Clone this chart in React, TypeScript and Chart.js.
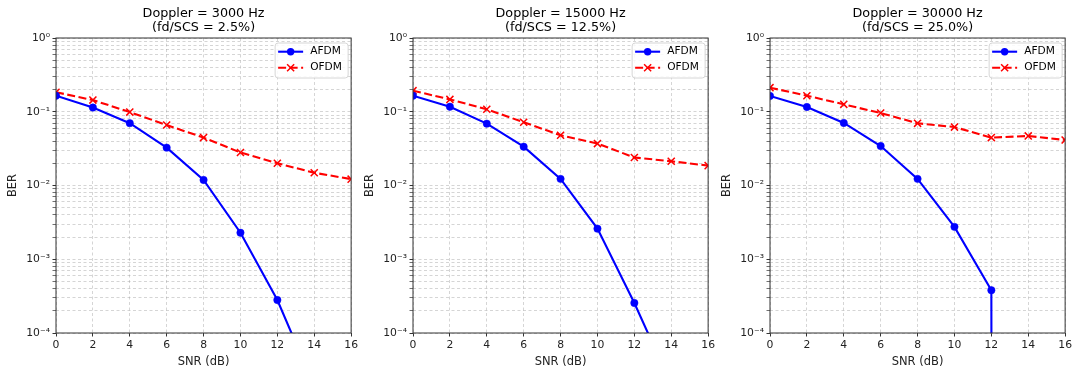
import React, { useEffect, useRef } from 'react';
import { Chart, registerables } from 'chart.js';

Chart.register(...registerables);

// ---------- data ----------
const SNR_DB = [0, 2, 4, 6, 8, 10, 12, 14, 16];

const TITLE_3000 = ['Doppler = 3000 Hz', '(fd/SCS = 2.5%)'];
const TITLE_15000 = ['Doppler = 15000 Hz', '(fd/SCS = 12.5%)'];
const TITLE_30000 = ['Doppler = 30000 Hz', '(fd/SCS = 25.0%)'];

const AFDM_3000 = [0.165, 0.114, 0.07, 0.0326, 0.0119, 0.00229, 0.00028, 0.000019, 0];
const OFDM_3000 = [0.184, 0.144, 0.099, 0.066, 0.0446, 0.028, 0.02, 0.0149, 0.0122];

const AFDM_15000 = [0.165, 0.117, 0.069, 0.0336, 0.0123, 0.0026, 0.000255, 0.00002, 0];
const OFDM_15000 = [0.193, 0.147, 0.108, 0.072, 0.048, 0.037, 0.024, 0.0213, 0.0186];

const AFDM_30000 = [0.164, 0.116, 0.0705, 0.0343, 0.0123, 0.00275, 0.00038, 0, 0];
const OFDM_30000 = [0.212, 0.165, 0.126, 0.096, 0.0697, 0.062, 0.0446, 0.047, 0.0414];

const X_TICKS = [0, 2, 4, 6, 8, 10, 12, 14, 16];
const Y_MAJOR_TICKS = [1e-4, 1e-3, 1e-2, 1e-1, 1];
const Y_TICK_LABELS = ['10⁻⁴', '10⁻³', '10⁻²', '10⁻¹', '10⁰'];
const Y_MINOR_MULTIPLIERS = [2, 3, 4, 5, 6, 7, 8, 9];

const SERIES_NAMES = ['AFDM', 'OFDM'];
const X_LABEL = 'SNR (dB)';
const Y_LABEL = 'BER';

// ---------- style ----------
const FONT = "'DejaVu Sans', sans-serif";
const ZERO_FLOOR = 1e-300; // log axis clips non-positive values far below the axis
const GRID_COLOR = 'rgba(150,150,150,0.5)';
const SPINE_COLOR = '#333333';

const frameLegendPlugin = {
  id: 'frameLegend',
  afterDraw(chart: any) {
    const { ctx, chartArea: ca } = chart;
    ctx.save();
    // spines
    ctx.strokeStyle = SPINE_COLOR;
    ctx.lineWidth = 1;
    ctx.setLineDash([]);
    ctx.strokeRect(ca.left, ca.top, ca.right - ca.left, ca.bottom - ca.top);

    // legend
    const w = 73;
    const h = 35;
    const x0 = ca.right - 3 - w;
    const y0 = ca.top + 5;
    ctx.beginPath();
    const r = 3;
    ctx.moveTo(x0 + r, y0);
    ctx.lineTo(x0 + w - r, y0);
    ctx.arcTo(x0 + w, y0, x0 + w, y0 + r, r);
    ctx.lineTo(x0 + w, y0 + h - r);
    ctx.arcTo(x0 + w, y0 + h, x0 + w - r, y0 + h, r);
    ctx.lineTo(x0 + r, y0 + h);
    ctx.arcTo(x0, y0 + h, x0, y0 + h - r, r);
    ctx.lineTo(x0, y0 + r);
    ctx.arcTo(x0, y0, x0 + r, y0, r);
    ctx.closePath();
    ctx.fillStyle = 'rgba(255,255,255,0.85)';
    ctx.fill();
    ctx.strokeStyle = '#d6d6d6';
    ctx.lineWidth = 1;
    ctx.stroke();

    chart.data.datasets.forEach((ds: any, i: number) => {
      const cy = y0 + 8.7 + i * 16;
      const lx0 = x0 + 3;
      const lx1 = x0 + 28;
      const mx = (lx0 + lx1) / 2;
      ctx.strokeStyle = ds.borderColor;
      ctx.lineWidth = ds.borderWidth;
      ctx.setLineDash(ds.borderDash || []);
      ctx.beginPath();
      ctx.moveTo(lx0, cy);
      ctx.lineTo(lx1, cy);
      ctx.stroke();
      ctx.setLineDash([]);
      if (ds.pointStyle === 'circle') {
        ctx.fillStyle = ds.pointBackgroundColor;
        ctx.beginPath();
        ctx.arc(mx, cy, ds.pointRadius, 0, Math.PI * 2);
        ctx.fill();
      } else {
        const s = ds.pointRadius * 0.7071;
        ctx.strokeStyle = ds.pointBorderColor;
        ctx.lineWidth = ds.pointBorderWidth;
        ctx.beginPath();
        ctx.moveTo(mx - s, cy - s);
        ctx.lineTo(mx + s, cy + s);
        ctx.moveTo(mx - s, cy + s);
        ctx.lineTo(mx + s, cy - s);
        ctx.stroke();
      }
      ctx.fillStyle = '#000';
      ctx.font = `10.6px ${FONT}`;
      ctx.textBaseline = 'middle';
      ctx.textAlign = 'left';
      ctx.fillText(ds.label, x0 + 35, cy);
    });
    ctx.restore();
  },
};

function toPoints(values: number[]) {
  return SNR_DB.map((x, i) => ({ x, y: values[i] > 0 ? values[i] : ZERO_FLOOR }));
}

function Panel({ left, title, afdm, ofdm }: { left: number; title: string[]; afdm: number[]; ofdm: number[] }) {
  const ref = useRef<HTMLCanvasElement | null>(null);
  useEffect(() => {
    if (!ref.current) return;
    const tickFont = { family: FONT, size: 10.8 };
    const labelFont = { family: FONT, size: 11.5 };
    const chart = new Chart(ref.current, {
      type: 'line',
      data: {
        datasets: [
          {
            label: SERIES_NAMES[0],
            data: toPoints(afdm),
            borderColor: '#0000ff',
            backgroundColor: '#0000ff',
            borderWidth: 2.1,
            pointStyle: 'circle',
            pointRadius: 3.7,
            pointBackgroundColor: '#0000ff',
            pointBorderColor: '#0000ff',
            pointBorderWidth: 0.5,
            tension: 0,
            fill: false,
          },
          {
            label: SERIES_NAMES[1],
            data: toPoints(ofdm),
            borderColor: '#ff0000',
            backgroundColor: '#ff0000',
            borderWidth: 2.1,
            borderDash: [8, 3.5],
            pointStyle: 'crossRot',
            pointRadius: 5,
            pointBorderColor: '#ff0000',
            pointBorderWidth: 1.5,
            tension: 0,
            fill: false,
          },
        ],
      },
      options: {
        animation: false,
        responsive: false,
        events: [],
        layout: { padding: { left: 0, right: 8, top: 0, bottom: 0 } },
        plugins: {
          legend: { display: false },
          tooltip: { enabled: false },
          title: {
            display: true,
            fullSize: false,
            text: title,
            color: '#000',
            font: { family: FONT, size: 12.75, weight: 'normal', lineHeight: 1.12 },
            padding: { top: 6.2, bottom: 3.24 },
          },
        },
        scales: {
          x: {
            type: 'linear',
            min: 0,
            max: 16,
            afterBuildTicks: (s: any) => {
              s.ticks = X_TICKS.map((v) => ({ value: v }));
            },
            afterFit: (s: any) => {
              s.height = 42;
            },
            ticks: { font: tickFont, color: '#222', padding: 2, autoSkip: false, maxRotation: 0 },
            grid: {
              color: GRID_COLOR,
              lineWidth: 0.8,
              tickBorderDash: [],
              tickColor: SPINE_COLOR,
              tickLength: 3.5,
              tickWidth: 1,
            },
            border: { display: false, dash: [3, 2.5] },
            title: {
              display: true,
              text: X_LABEL,
              color: '#222',
              font: labelFont,
              padding: { top: 0, bottom: 6.3 },
            },
          },
          y: {
            type: 'logarithmic',
            min: 1e-4,
            max: 1,
            afterBuildTicks: (s: any) => {
              const ticks: any[] = [];
              Y_MAJOR_TICKS.forEach((m, i) => {
                ticks.push({ value: m, major: true });
                if (i < Y_MAJOR_TICKS.length - 1) {
                  Y_MINOR_MULTIPLIERS.forEach((k) => ticks.push({ value: m * k, major: false }));
                }
              });
              s.ticks = ticks;
            },
            afterFit: (s: any) => {
              s.width = 56;
            },
            ticks: {
              font: tickFont,
              color: '#222',
              padding: 2.5,
              autoSkip: false,
              callback: (value: any) => {
                const idx = Y_MAJOR_TICKS.findIndex((m) => Math.abs(m - value) / m < 1e-9);
                return idx >= 0 ? Y_TICK_LABELS[idx] : '';
              },
            },
            grid: {
              color: GRID_COLOR,
              lineWidth: 0.8,
              tickBorderDash: [],
              tickColor: SPINE_COLOR,
              tickLength: 3.5,
              tickWidth: (c: any) => (c.tick && c.tick.major ? 1 : 0.7),
            },
            border: { display: false, dash: [3, 2.5] },
            title: {
              display: true,
              text: Y_LABEL,
              color: '#222',
              font: labelFont,
              padding: { top: 6, bottom: 0 },
            },
          },
        },
      } as any,
      plugins: [frameLegendPlugin],
    });
    return () => chart.destroy();
  }, [title, afdm, ofdm]);
  return (
    <div style={{ position: 'absolute', left, top: 0, width: 360, height: 375 }}>
      <canvas ref={ref} width={360} height={375} style={{ width: 360, height: 375 }} />
    </div>
  );
}

export default function App() {
  return (
    <div style={{ position: 'absolute', left: 0, top: 0, width: 1080, height: 375, background: '#fff' }}>
      <Panel left={0} title={TITLE_3000} afdm={AFDM_3000} ofdm={OFDM_3000} />
      <Panel left={357} title={TITLE_15000} afdm={AFDM_15000} ofdm={OFDM_15000} />
      <Panel left={714} title={TITLE_30000} afdm={AFDM_30000} ofdm={OFDM_30000} />
    </div>
  );
}
